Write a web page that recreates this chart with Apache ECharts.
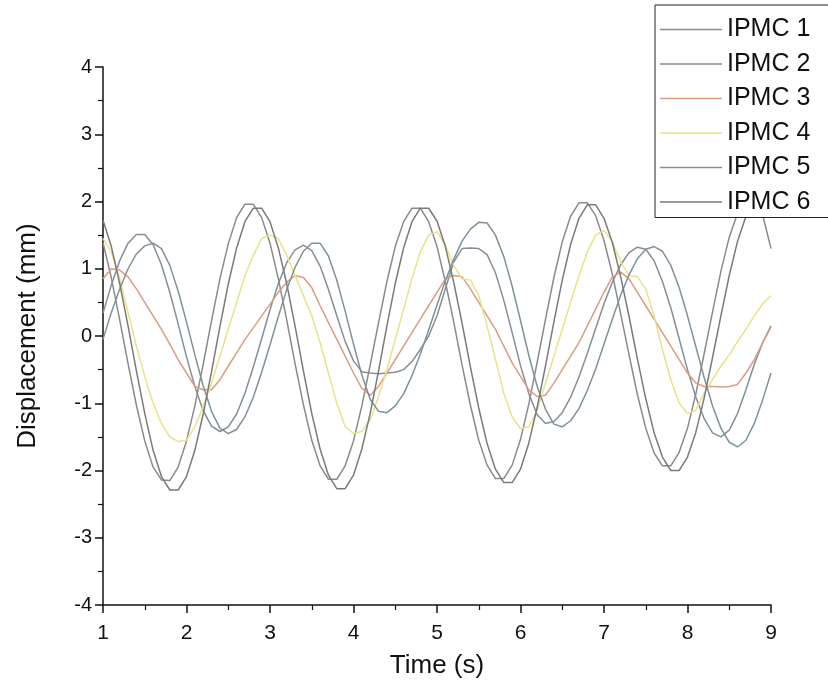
<!DOCTYPE html>
<html>
<head>
<meta charset="utf-8">
<script src="https://cdn.jsdelivr.net/npm/echarts@6/dist/echarts.min.js"></script>
<style>html,body{margin:0;padding:0;background:#fff;}#chart{width:828px;height:698px;}</style>
</head>
<body>
<div id="chart"></div>
<script>
var times = [1.0,1.1,1.2,1.3,1.4,1.5,1.6,1.7,1.8,1.9,2.0,2.1,2.2,2.3,2.4,2.5,2.6,2.7,2.8,2.9,3.0,3.1,3.2,3.3,3.4,3.5,3.6,3.7,3.8,3.9,4.0,4.1,4.2,4.3,4.4,4.5,4.6,4.7,4.8,4.9,5.0,5.1,5.2,5.3,5.4,5.5,5.6,5.7,5.8,5.9,6.0,6.1,6.2,6.3,6.4,6.5,6.6,6.7,6.8,6.9,7.0,7.1,7.2,7.3,7.4,7.5,7.6,7.7,7.8,7.9,8.0,8.1,8.2,8.3,8.4,8.5,8.6,8.7,8.8,8.9,9.0];

var ipmc1 = [0.34,0.76,1.12,1.38,1.51,1.51,1.36,1.06,0.65,0.18,-0.31,-0.75,-1.11,-1.34,-1.42,-1.35,-1.16,-0.85,-0.46,-0.04,0.39,0.78,1.09,1.28,1.35,1.27,1.04,0.69,0.30,-0.08,-0.37,-0.53,-0.55,-0.56,-0.55,-0.54,-0.50,-0.38,-0.20,0.00,0.30,0.70,1.10,1.30,1.31,1.30,1.21,0.94,0.53,0.05,-0.44,-0.86,-1.17,-1.30,-1.27,-1.14,-0.91,-0.61,-0.26,0.11,0.48,0.80,1.06,1.24,1.32,1.29,1.12,0.81,0.42,-0.04,-0.50,-0.91,-1.23,-1.44,-1.50,-1.40,-1.15,-0.80,-0.42,-0.10,0.15];

var ipmc2 = [1.39,0.86,0.24,-0.41,-1.03,-1.56,-1.95,-2.14,-2.15,-1.95,-1.56,-1.04,-0.42,0.23,0.85,1.37,1.76,1.96,1.96,1.76,1.38,0.85,0.24,-0.41,-1.02,-1.55,-1.93,-2.13,-2.13,-1.93,-1.56,-1.04,-0.43,0.20,0.81,1.33,1.70,1.90,1.90,1.70,1.33,0.81,0.21,-0.43,-1.03,-1.55,-1.92,-2.12,-2.12,-1.92,-1.54,-1.01,-0.39,0.25,0.87,1.40,1.78,1.98,1.98,1.79,1.42,0.92,0.33,-0.28,-0.87,-1.37,-1.74,-1.93,-1.93,-1.73,-1.37,-0.86,-0.26,0.36,0.96,1.47,1.83,2.03,2.03,1.80,1.30];

var ipmc3 = [0.85,1.00,0.98,0.88,0.70,0.50,0.30,0.10,-0.12,-0.35,-0.55,-0.75,-0.80,-0.80,-0.65,-0.45,-0.25,-0.05,0.12,0.30,0.47,0.65,0.80,0.90,0.87,0.72,0.45,0.20,-0.05,-0.30,-0.55,-0.78,-0.88,-0.75,-0.55,-0.35,-0.15,0.05,0.25,0.45,0.65,0.85,0.90,0.88,0.70,0.50,0.30,0.10,-0.15,-0.40,-0.60,-0.80,-0.90,-0.88,-0.70,-0.50,-0.30,-0.10,0.15,0.40,0.65,0.88,0.95,0.85,0.65,0.45,0.25,0.05,-0.15,-0.35,-0.55,-0.70,-0.75,-0.75,-0.76,-0.75,-0.72,-0.55,-0.35,-0.10,0.13];

var ipmc4 = [1.45,1.25,0.85,0.35,-0.15,-0.60,-1.00,-1.30,-1.50,-1.57,-1.55,-1.35,-1.05,-0.70,-0.30,0.10,0.50,0.90,1.20,1.45,1.50,1.45,1.20,0.90,0.60,0.30,-0.10,-0.55,-1.00,-1.35,-1.45,-1.42,-1.25,-0.90,-0.50,-0.05,0.40,0.85,1.25,1.50,1.55,1.35,1.05,0.85,0.83,0.60,0.15,-0.35,-0.85,-1.20,-1.38,-1.35,-1.10,-0.70,-0.30,0.10,0.50,0.90,1.25,1.50,1.57,1.40,1.10,0.90,0.88,0.70,0.30,-0.20,-0.65,-1.00,-1.15,-1.10,-0.85,-0.65,-0.45,-0.28,-0.08,0.10,0.30,0.48,0.60];

var ipmc5 = [-0.05,0.35,0.70,1.00,1.22,1.34,1.38,1.30,1.05,0.67,0.21,-0.28,-0.74,-1.12,-1.37,-1.45,-1.39,-1.20,-0.91,-0.54,-0.13,0.29,0.69,1.02,1.26,1.38,1.38,1.19,0.83,0.37,-0.12,-0.58,-0.94,-1.12,-1.14,-1.04,-0.86,-0.59,-0.27,0.09,0.46,0.82,1.14,1.41,1.59,1.69,1.68,1.50,1.18,0.74,0.23,-0.29,-0.75,-1.09,-1.31,-1.35,-1.26,-1.08,-0.81,-0.49,-0.12,0.25,0.61,0.91,1.15,1.29,1.33,1.26,1.05,0.72,0.30,-0.16,-0.62,-1.04,-1.37,-1.58,-1.65,-1.55,-1.30,-0.95,-0.55];

var ipmc6 = [1.72,1.33,0.78,0.15,-0.52,-1.15,-1.70,-2.09,-2.29,-2.29,-2.09,-1.70,-1.16,-0.53,0.14,0.77,1.31,1.70,1.90,1.90,1.70,1.31,0.78,0.15,-0.52,-1.15,-1.68,-2.07,-2.27,-2.27,-2.07,-1.68,-1.15,-0.52,0.15,0.78,1.31,1.70,1.90,1.90,1.71,1.33,0.80,0.19,-0.46,-1.07,-1.60,-1.98,-2.18,-2.18,-1.98,-1.59,-1.06,-0.44,0.21,0.83,1.36,1.75,1.95,1.95,1.75,1.39,0.88,0.29,-0.34,-0.93,-1.44,-1.80,-2.00,-2.00,-1.80,-1.43,-0.92,-0.32,0.30,0.90,1.41,1.78,1.98,1.98,1.78];

var seriesNames = ['IPMC 1','IPMC 2','IPMC 3','IPMC 4','IPMC 5','IPMC 6'];
var seriesValues = [ipmc1, ipmc2, ipmc3, ipmc4, ipmc5, ipmc6];
var seriesColors = ['#858e98','#8a8a8a','#dc9c82','#e9e28c','#7f9298','#7a7a7a'];

var chart = echarts.init(document.getElementById('chart'), null, {renderer:'canvas'});
var font = 'Liberation Sans, Arial, sans-serif';

var series = seriesNames.map(function(name, i){
  return {
    name: name,
    type: 'line',
    symbol: 'none',
    smooth: false,
    data: times.map(function(t, k){ return [t, seriesValues[i][k]]; }),
    lineStyle: {color: seriesColors[i], width: 1.5},
    itemStyle: {color: seriesColors[i]},
    emphasis: {disabled: true}
  };
});

chart.setOption({
  animation: false,
  backgroundColor: '#ffffff',
  grid: {left: 103, right: 57, top: 67, bottom: 93, containLabel: false},
  legend: {
    data: seriesNames,
    orient: 'vertical',
    left: 655, top: 5,
    backgroundColor: '#ffffff',
    borderColor: '#222222', borderWidth: 1,
    padding: [12, 20, 3, 5],
    icon: 'rect',
    itemWidth: 62, itemHeight: 1.5, itemGap: 9.5,
    textStyle: {fontSize: 25, color: '#111111', fontFamily: font, lineHeight: 25},
    z: 10
  },
  xAxis: {
    type: 'value', min: 1, max: 9, interval: 1,
    name: 'Time (s)', nameLocation: 'middle', nameGap: 48,
    nameTextStyle: {fontSize: 26, color: '#111111', fontFamily: font},
    axisLine: {show: true, onZero: false, lineStyle: {color: '#111111', width: 1.5}},
    axisTick: {show: true, length: 8, lineStyle: {color: '#111111', width: 1.5}},
    minorTick: {show: true, splitNumber: 2, length: 5, lineStyle: {color: '#111111', width: 1.2}},
    axisLabel: {fontSize: 21, color: '#111111', fontFamily: font, margin: 18},
    splitLine: {show: false}
  },
  yAxis: {
    type: 'value', min: -4, max: 4, interval: 1,
    name: 'Displacement (mm)', nameLocation: 'middle', nameGap: 62,
    nameTextStyle: {fontSize: 26, color: '#111111', fontFamily: font},
    axisLine: {show: true, onZero: false, lineStyle: {color: '#111111', width: 1.5}},
    axisTick: {show: true, length: 8, lineStyle: {color: '#111111', width: 1.5}},
    minorTick: {show: true, splitNumber: 2, length: 5, lineStyle: {color: '#111111', width: 1.2}},
    axisLabel: {fontSize: 20, color: '#111111', fontFamily: font, margin: 11},
    splitLine: {show: false}
  },
  series: series
});
</script>
</body>
</html>
